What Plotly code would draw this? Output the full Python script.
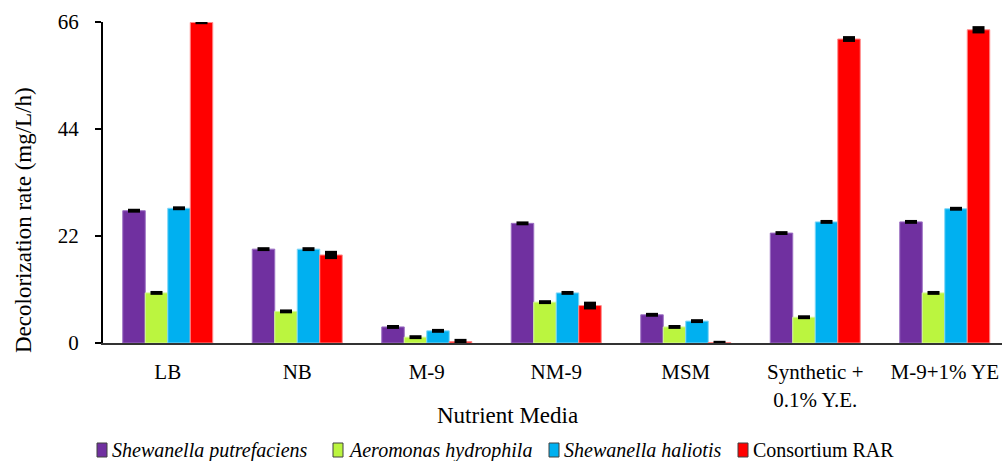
import plotly.graph_objects as go

# Nutrient media tested
media = ["LB", "NB", "M-9", "NM-9", "MSM", "Synthetic +<br>0.1% Y.E.", "M-9+1% YE"]

# Decolorization rate (mg/L/h) per strain, with standard errors
putrefaciens = [27.2, 19.3, 3.3, 24.6, 5.8, 22.6, 24.9]
putrefaciens_err = [0.4, 0.4, 0.4, 0.4, 0.4, 0.4, 0.4]

hydrophila = [10.3, 6.5, 1.2, 8.4, 3.3, 5.3, 10.3]
hydrophila_err = [0.4, 0.4, 0.4, 0.4, 0.4, 0.4, 0.4]

haliotis = [27.7, 19.3, 2.5, 10.3, 4.5, 24.9, 27.6]
haliotis_err = [0.4, 0.4, 0.4, 0.4, 0.4, 0.4, 0.4]

consortium = [65.9, 18.1, 0.3, 7.7, 0.1, 62.5, 64.4]
consortium_err = [0.35, 0.85, 0.55, 0.8, 0.35, 0.6, 0.75]

y_ticks = [0, 22, 44, 66]

series = [
    ("<i>Shewanella putrefaciens</i>", putrefaciens, putrefaciens_err, "#7030A0", "#9B6FC2"),
    ("<i>Aeromonas hydrophila</i>", hydrophila, hydrophila_err, "#BBF53F", "#D6F99A"),
    ("<i>Shewanella haliotis</i>", haliotis, haliotis_err, "#00B0F0", "#7FD6F7"),
    ("Consortium RAR", consortium, consortium_err, "#FF0000", "#FF8A8A"),
]

W, H = 1002, 461
ML, MR, MT, MB = 103, 0, 22, 118
PW, PH = W - ML - MR, H - MT - MB


def px_x(px):
    """Pixel column -> paper x."""
    return (px - ML) / PW


def px_y(py):
    """Pixel row -> paper y."""
    return (H - MB - py) / PH


SERIF = "Liberation Serif"

fig = go.Figure()
for name, vals, errs, color, edge in series:
    fig.add_trace(go.Bar(
        name=name,
        x=media,
        y=vals,
        marker=dict(color=color, line=dict(color=edge, width=1)),
        error_y=dict(type="data", array=errs, visible=True,
                     color="black", thickness=12, width=0),
        showlegend=False,
    ))

# Legend row drawn below the axis title: swatch + label per series
legend_swatch_left = [97, 333, 549, 738]
shapes = []
annotations = []
for (name, _, _, color, _), left in zip(series, legend_swatch_left):
    shapes.append(dict(
        type="rect", xref="paper", yref="paper",
        x0=px_x(left), x1=px_x(left + 10),
        y0=px_y(457), y1=px_y(443),
        fillcolor=color, line=dict(color="#404040", width=1),
    ))
    annotations.append(dict(
        text=name, xref="paper", yref="paper",
        x=px_x(left + 13), y=px_y(450),
        xanchor="left", yanchor="middle", showarrow=False,
        font=dict(family=SERIF, size=20, color="black"),
    ))

# Axis titles
annotations.append(dict(
    text="Nutrient Media", xref="paper", yref="paper",
    x=px_x(507), y=px_y(415), xanchor="center", yanchor="middle",
    showarrow=False, font=dict(family=SERIF, size=23, color="black"),
))
annotations.append(dict(
    text="Decolorization rate (mg/L/h)", xref="paper", yref="paper",
    x=px_x(23), y=px_y(220), xanchor="center", yanchor="middle",
    textangle=-90, showarrow=False,
    font=dict(family=SERIF, size=23, color="black"),
))

fig.update_layout(
    width=W,
    height=H,
    margin=dict(l=ML, r=MR, t=MT, b=MB, autoexpand=False),
    paper_bgcolor="white",
    plot_bgcolor="white",
    barmode="group",
    bargap=0.305,
    bargroupgap=0,
    font=dict(family=SERIF, size=20, color="black"),
    showlegend=False,
    shapes=shapes,
    annotations=annotations,
    xaxis=dict(
        range=[-0.5, 6.442],
        showline=True,
        linecolor="#333333",
        linewidth=2,
        ticks="",
        showgrid=False,
        tickfont=dict(family=SERIF, size=21, color="black"),
        ticklabelstandoff=9,
    ),
    yaxis=dict(
        range=[0, 66],
        tickvals=y_ticks,
        showline=True,
        linecolor="black",
        linewidth=2,
        ticks="outside",
        ticklen=6,
        tickwidth=2,
        tickcolor="black",
        showgrid=False,
        zeroline=False,
        tickfont=dict(family=SERIF, size=21, color="black"),
        ticklabelstandoff=12,
    ),
)

fig.write_html("out.html")
